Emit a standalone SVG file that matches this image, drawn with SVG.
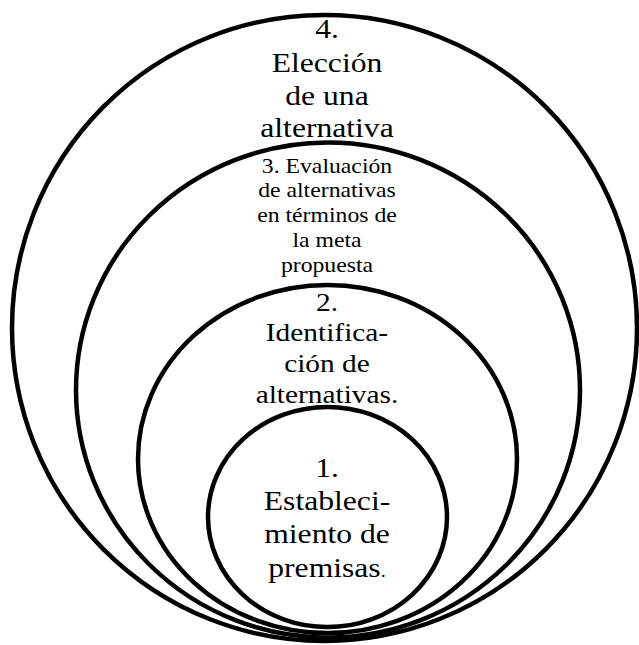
<svg xmlns="http://www.w3.org/2000/svg" width="639" height="645" viewBox="0 0 639 645">
<style>
.ring{fill:none;stroke:#000;stroke-width:4.5}
.lbl{font-family:'Liberation Serif',serif;fill:#000;text-anchor:middle}
.big{font-size:28px}
.mid{font-size:26px}
.small{font-size:21px}
</style>
<rect width="639" height="645" fill="#fff"/>
<g id="node4">
<ellipse class="ring" cx="324.5" cy="328" rx="312.5" ry="313"/>
<g transform="translate(327,0) scale(1.13,1)" font-family="Liberation Serif, serif">
<text class="lbl big" x="0" y="38">4.</text>
<text class="lbl big" x="0" y="72">Elección</text>
<text class="lbl big" x="0" y="105">de una</text>
<text class="lbl big" x="0" y="137">alternativa</text>
</g>
</g>
<g id="node3">
<ellipse class="ring" cx="328" cy="390" rx="252" ry="247.5"/>
<g transform="translate(327,0) scale(1.13,1)" font-family="Liberation Serif, serif">
<text class="lbl small" x="0" y="173">3. Evaluación</text>
<text class="lbl small" x="0" y="197">de alternativas</text>
<text class="lbl small" x="0" y="222">en términos de</text>
<text class="lbl small" x="0" y="247">la meta</text>
<text class="lbl small" x="0" y="272">propuesta</text>
</g>
</g>
<g id="node2">
<ellipse class="ring" cx="327.5" cy="459" rx="189.5" ry="174"/>
<g transform="translate(327,0) scale(1.13,1)" font-family="Liberation Serif, serif">
<text class="lbl mid" x="0" y="311">2.</text>
<text class="lbl mid" x="0" y="341">Identifica-</text>
<text class="lbl mid" x="0" y="372">ción de</text>
<text class="lbl mid" x="0" y="403">alternativas.</text>
</g>
</g>
<g id="node1">
<ellipse class="ring" cx="327.5" cy="517" rx="119.5" ry="110"/>
<g transform="translate(327,0) scale(1.13,1)" font-family="Liberation Serif, serif">
<text class="lbl big" x="0" y="477">1.</text>
<text class="lbl big" x="0" y="510">Estableci-</text>
<text class="lbl big" x="0" y="543">miento de</text>
<text class="lbl big" x="0" y="577">premisas<tspan font-size="18px">.</tspan></text>
</g>
</g>
<g id="connectors"/>
</svg>
